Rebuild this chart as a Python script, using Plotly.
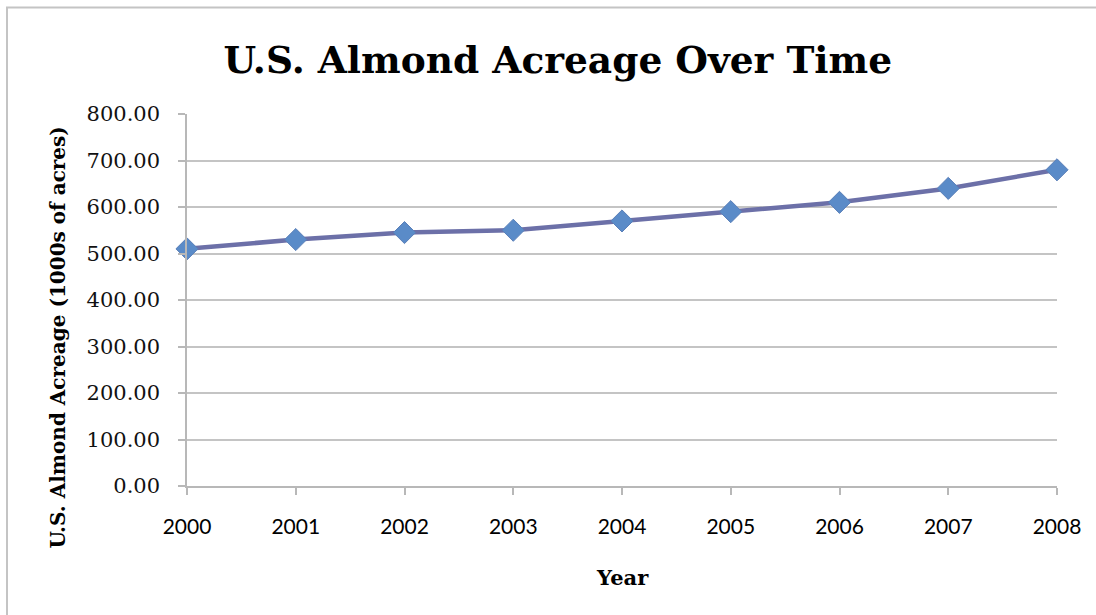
import plotly.graph_objects as go

# U.S. almond acreage, thousands of acres
years = ["2000", "2001", "2002", "2003", "2004", "2005", "2006", "2007", "2008"]
acreage = [510, 530, 545, 550, 570, 590, 610, 640, 680]
y_ticks = [0, 100, 200, 300, 400, 500, 600, 700, 800]

W, H = 1096, 615
L, R, T, B = 187, 39, 114, 129
pw, ph = W - L - R, H - T - B


def px_to_paper_x(px):
    return (px - L) / pw


def px_to_paper_y(py):
    return (H - B - py) / ph


fig = go.Figure()
fig.add_trace(go.Scatter(
    x=years, y=acreage, mode="lines+markers",
    line=dict(color="#6c70a8", width=4.5),
    marker=dict(symbol="diamond", size=17, color="#5a8bc8",
                line=dict(color="#5a7fb8", width=1)),
    cliponaxis=False, hoverinfo="skip", showlegend=False,
))

# chart frame (top and left edges visible)
fig.add_shape(type="rect", xref="paper", yref="paper",
              x0=px_to_paper_x(7), x1=px_to_paper_x(1110),
              y0=px_to_paper_y(630), y1=px_to_paper_y(7.5),
              line=dict(color="#c4c4c4", width=2), fillcolor="rgba(0,0,0,0)",
              layer="below")

# axis titles
fig.add_annotation(text="<b>U.S. Almond Acreage (1000s of acres)</b>",
                   xref="paper", yref="paper",
                   x=px_to_paper_x(57), y=px_to_paper_y(337.5),
                   xanchor="center", yanchor="middle", textangle=-90,
                   showarrow=False,
                   font=dict(family="DejaVu Serif", size=20, color="black"))
fig.add_annotation(text="<b>Year</b>", xref="paper", yref="paper",
                   x=px_to_paper_x(622), y=px_to_paper_y(577),
                   xanchor="center", yanchor="middle", showarrow=False,
                   font=dict(family="DejaVu Serif", size=21, color="black"))

fig.update_layout(
    width=W, height=H,
    margin=dict(l=L, r=R, t=T, b=B),
    paper_bgcolor="white", plot_bgcolor="white",
    title=dict(text="<b>U.S. Almond Acreage Over Time</b>",
               font=dict(family="DejaVu Serif", size=37.5, color="black"),
               x=0.509, xanchor="center", y=1 - 60 / H, yanchor="middle"),
    xaxis=dict(
        type="category", range=[0, 8],
        showgrid=False, showline=True, linecolor="#b8b8b8", linewidth=1.5,
        ticks="outside", ticklen=7, tickcolor="#b8b8b8", tickwidth=1.5,
        tickfont=dict(family="Lato", size=21, color="black"),
        ticklabelstandoff=14,
        zeroline=False,
    ),
    yaxis=dict(
        range=[0, 800], tickvals=y_ticks, tickformat=".2f",
        showgrid=True, gridcolor="#c4c4c4", gridwidth=1.5,
        showline=True, linecolor="#b8b8b8", linewidth=1.5,
        ticks="outside", ticklen=7, tickcolor="#b8b8b8", tickwidth=1.5,
        tickfont=dict(family="DejaVu Serif", size=21, color="#111111"),
        ticklabelstandoff=14,
        zeroline=False,
    ),
)

fig.write_html("out.html")
